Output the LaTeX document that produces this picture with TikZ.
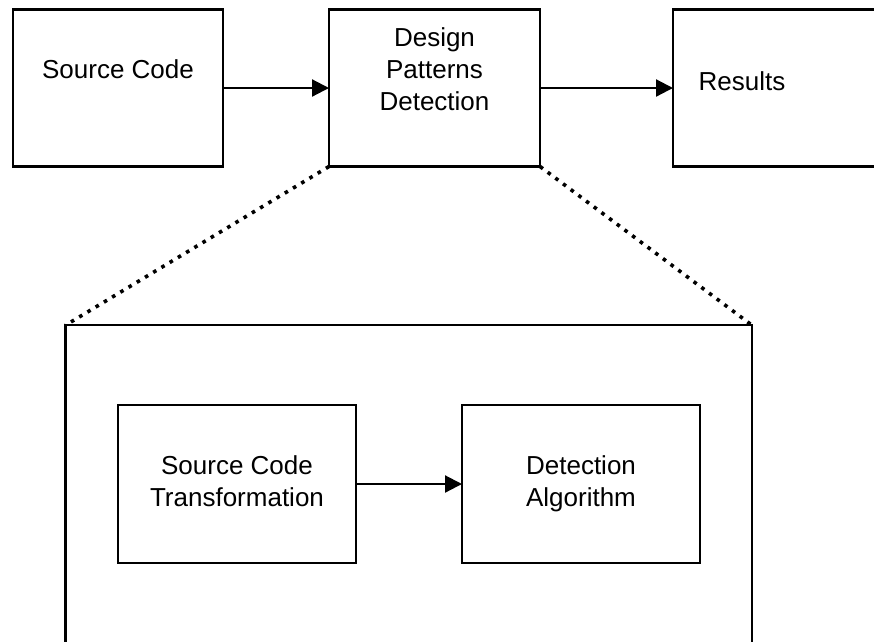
\documentclass[tikz,border=0pt]{standalone}
\usepackage{fontspec}
\setmainfont{Liberation Sans}
\usetikzlibrary{arrows.meta}
\begin{document}
\begin{tikzpicture}[x=1pt,y=-1pt,
  box/.style={draw, line width=2.2pt, inner sep=0pt, outer sep=0pt, rectangle},
  txt/.style={anchor=base, align=center, inner sep=0pt, font=\fontsize{26pt}{32pt}\selectfont},
  arr/.style={line width=2.2pt, -{Triangle[length=17pt,width=17pt]}},
  dotline/.style={line width=3.6pt, dash pattern=on 3.6pt off 6pt}]
\useasboundingbox (0,0) rectangle (874,641);
\clip (0,0) rectangle (874,641);
% top row
\node[box, minimum width=210pt, minimum height=157pt] (src) at (118,88) {};
\node[box, minimum width=211pt, minimum height=157pt] (dpd) at (434.5,88) {};
\node[box, minimum width=210pt, minimum height=157pt] (res) at (778,88) {};
\node[txt] (srct) at (118,78) {Source Code};
\node[txt] (dpdt) at (434.5,110) {Design\\Patterns\\Detection};
\node[txt] (rest) at (742,90) {Results};
\draw[arr] (src.east) -- (dpd.west);
\draw[arr] (dpd.east) -- (res.west);
% zoom box
\node[box, minimum width=686.5pt, minimum height=335pt] (big) at (408.75,492.75) {};
\draw[dotline] (dpd.south west) -- (big.north west);
\draw[dotline] (dpd.south east) -- (big.north east);
% inner
\node[box, minimum width=238pt, minimum height=158pt] (sct) at (237,484) {};
\node[box, minimum width=238pt, minimum height=158pt] (alg) at (581,484) {};
\node[txt] (sctt) at (237,506) {Source Code\\Transformation};
\node[txt] (algt) at (581,506) {Detection\\Algorithm};
\draw[arr] (sct.east) -- (alg.west);
\end{tikzpicture}
\end{document}
